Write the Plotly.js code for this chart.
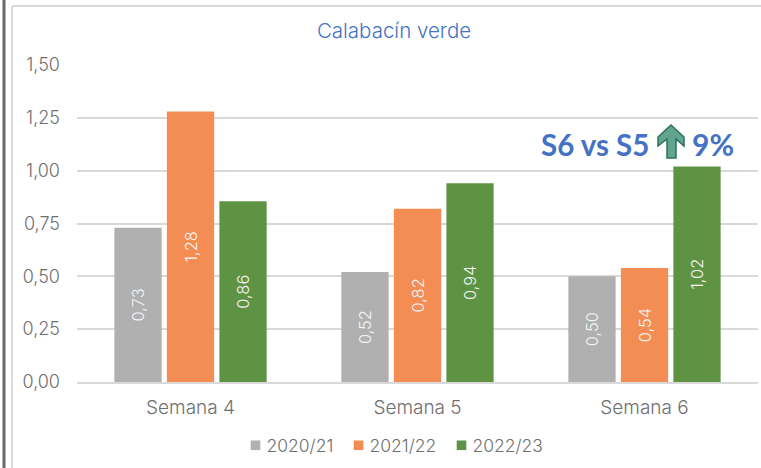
<!DOCTYPE html>
<html><head><meta charset="utf-8">
<script src="https://cdn.plot.ly/plotly-3.0.0.min.js"></script>
<style>html,body{margin:0;padding:0;background:#fff}</style></head>
<body><div id="c" style="width:761px;height:468px"></div>
<script>
const categories=["Semana 4","Semana 5","Semana 6"];
const s2021=[0.73,0.52,0.50];
const s2122=[1.28,0.82,0.54];
const s2223=[0.855,0.94,1.02];
const labels2223=["0,86","0,94","1,02"];
const yTicks=[0,0.25,0.5,0.75,1,1.25,1.5];
const yLabels=["0,00","0,25","0,50","0,75","1,00","1,25","1,50"];
const font="Inter, 'Open Sans', sans-serif";
const bold="Lato, 'Open Sans', sans-serif";
const W=761,H=468,L=77,R=3,T=65,B=86;
const px=x=>(x-L)/(W-L-R), py=y=>1-(y-T)/(H-T-B);
function bar(name,y,color,labels){return {type:"bar",name,x:categories,y,marker:{color},
  text:labels||y.map(v=>v.toFixed(2).replace(".",",")),textposition:"inside",insidetextanchor:"middle",textangle:-90,
  textfont:{color:"#f4f4f4",size:16.5,family:font,weight:300},cliponaxis:false,hoverinfo:"skip"};}
const arrowPts=[[671,125],[684,137],[684,146],[676,139],[676,158],[667,158],[667,139],[658,146],[658,137]];
const path="M"+arrowPts.map(p=>px(p[0])+","+py(p[1])).join("L")+"Z";
const gd=document.getElementById("c");
Plotly.newPlot(gd,[bar("2020/21",s2021,"#b0b0b0"),bar("2021/22",s2122,"#f38d53"),bar("2022/23",s2223,"#5e9344",labels2223)],{
  width:W,height:H,margin:{l:L,r:R,t:T,b:B},paper_bgcolor:"#fff",plot_bgcolor:"#fff",
  barmode:"group",bargap:0.306,bargroupgap:0.1,
  title:{text:"Calabacín verde",font:{family:font,size:20.5,weight:300,color:"#4472c4"},x:394/W,xanchor:"center",y:1-31/H,yanchor:"middle"},
  xaxis:{showgrid:false,showline:true,linecolor:"#d9d9d9",linewidth:2,ticks:"",ticklabelstandoff:7,tickfont:{family:font,size:19,weight:300,color:"#6f6f6f"},automargin:false},
  yaxis:{range:[0,1.5],tickvals:yTicks,ticktext:yLabels,gridcolor:"#d9d9d9",gridwidth:2,zeroline:false,ticks:"",ticklabelstandoff:16,tickfont:{family:font,size:18,weight:300,color:"#6f6f6f"},automargin:false},
  legend:{orientation:"h",x:px(381),xanchor:"center",y:-0.2,yanchor:"middle",font:{family:font,size:17.5,weight:300,color:"#6f6f6f"},itemwidth:30,entrywidth:58,entrywidthmode:"pixels",traceorder:"normal"},
  annotations:[
   {xref:"paper",yref:"paper",x:px(539),y:py(144),xanchor:"left",yanchor:"middle",showarrow:false,text:"<b>S6 vs S5</b>",font:{family:bold,size:29.5,color:"#4472c4"}},
   {xref:"paper",yref:"paper",x:px(690),y:py(144),xanchor:"left",yanchor:"middle",showarrow:false,text:"<b>9%</b>",font:{family:bold,size:30,color:"#4472c4"}}
  ],
  shapes:[
   {type:"path",xref:"paper",yref:"paper",path,fillcolor:"#5fa58f",line:{color:"#2f6f5c",width:1.5}},
   {type:"line",xref:"paper",yref:"paper",x0:px(4),x1:px(4),y0:py(0),y1:py(468),line:{color:"#6a6a6a",width:3}},
   {type:"line",xref:"paper",yref:"paper",x0:px(12),x1:px(12),y0:py(6),y1:py(468),line:{color:"#d9d9d9",width:2}},
   {type:"line",xref:"paper",yref:"paper",x0:px(12),x1:px(761),y0:py(6),y1:py(6),line:{color:"#d9d9d9",width:2}}
  ]
},{displayModeBar:false}).then(()=>{
  gd.querySelectorAll(".legendsymbols").forEach(g=>g.setAttribute("transform","translate(13,0) scale(.8)"));
  gd.querySelectorAll(".legend, .legend .scrollbox").forEach(g=>{g.removeAttribute("clip-path");g.style.clipPath="none";});
});
</script></body></html>
